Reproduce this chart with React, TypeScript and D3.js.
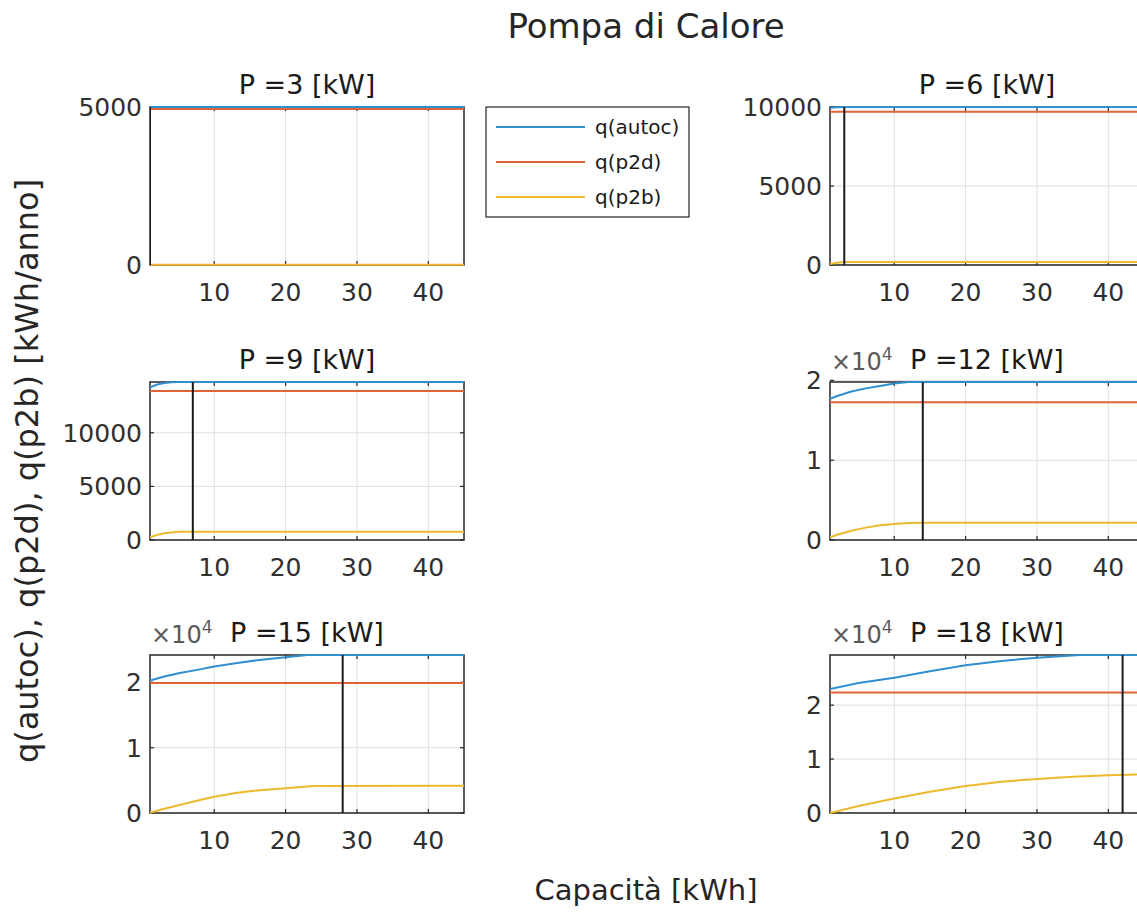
import React from "react";
import * as d3 from "d3";

// ---------- DATA ----------
const powers = [3, 6, 9, 12, 15, 18];
const seriesNames = ["q(autoc)", "q(p2d)", "q(p2b)"];
const xDomain: [number, number] = [1, 45];
const xTicks = [10, 20, 30, 40];

// [capacity kWh, value kWh/anno]
const p3Autoc: [number, number][] = [[1, 4995], [45, 4995]];
const p3P2d: [number, number][] = [[1, 4930], [45, 4930]];
const p3P2b: [number, number][] = [[1, 10], [45, 10]];

const p6Autoc: [number, number][] = [[1, 9960], [2, 9990], [3, 10000], [45, 10000]];
const p6P2d: [number, number][] = [[1, 9700], [45, 9700]];
const p6P2b: [number, number][] = [[1, 60], [2, 140], [3, 190], [45, 190]];

const p9Autoc: [number, number][] = [[1, 14250], [2, 14500], [3, 14650], [4, 14720], [5, 14740], [45, 14740]];
const p9P2d: [number, number][] = [[1, 13900], [45, 13900]];
const p9P2b: [number, number][] = [[1, 250], [2, 480], [3, 620], [4, 710], [5, 760], [6, 780], [45, 780]];

const p12Autoc: [number, number][] = [[1, 17700], [2, 18050], [4, 18600], [6, 19000], [8, 19300], [10, 19600], [12, 19800], [45, 19800]];
const p12P2d: [number, number][] = [[1, 17250], [45, 17250]];
const p12P2b: [number, number][] = [[1, 350], [2, 650], [4, 1150], [6, 1550], [8, 1850], [10, 2020], [12, 2120], [14, 2160], [45, 2160]];

const p15Autoc: [number, number][] = [[1, 20300], [3, 20900], [5, 21400], [8, 22000], [10, 22450], [13, 22950], [16, 23400], [20, 23850], [23, 24200], [45, 24200]];
const p15P2d: [number, number][] = [[1, 19900], [45, 19900]];
const p15P2b: [number, number][] = [[1, 50], [3, 650], [5, 1200], [8, 2000], [10, 2500], [13, 3050], [16, 3450], [20, 3800], [24, 4150], [45, 4180]];

const p18Autoc: [number, number][] = [[1, 23000], [5, 24100], [10, 25100], [15, 26300], [20, 27400], [25, 28200], [30, 28800], [36, 29300], [45, 29300]];
const p18P2d: [number, number][] = [[1, 22350], [45, 22350]];
const p18P2b: [number, number][] = [[1, 0], [5, 1300], [10, 2700], [15, 3950], [20, 5000], [25, 5800], [30, 6300], [35, 6700], [40, 7000], [45, 7150]];

// optimal capacity marker (vertical black line)
const optimalCapacity = [1, 3, 7, 14, 28, 42];

// y ticks per panel (raw values)
const yTicksP3 = [0, 5000];
const yTicksP6 = [0, 5000, 10000];
const yTicksP9 = [0, 5000, 10000];
const yTicksP12 = [0, 10000, 20000];
const yTicksP15 = [0, 10000, 20000];
const yTicksP18 = [0, 10000, 20000];
const yExponent = [0, 0, 0, 4, 4, 4];

const panelSeries = [
  [p3Autoc, p3P2d, p3P2b],
  [p6Autoc, p6P2d, p6P2b],
  [p9Autoc, p9P2d, p9P2b],
  [p12Autoc, p12P2d, p12P2b],
  [p15Autoc, p15P2d, p15P2b],
  [p18Autoc, p18P2d, p18P2b],
];
const panelYTicks = [yTicksP3, yTicksP6, yTicksP9, yTicksP12, yTicksP15, yTicksP18];

// ---------- STYLE ----------
const W = 1137;
const H = 913;
const FONT = "DejaVu Sans, Verdana, sans-serif";
const colors = ["#2f8fcf", "#e0633a", "#efb92e"];
const axisColor = "#262626";
const gridColor = "#e0e0e0";
const colLeft = [150, 830];
const rowTop = [107, 382, 655];
const pw = 314;
const ph = 158;

function Panel({ idx }: { idx: number }) {
  const col = idx % 2;
  const row = Math.floor(idx / 2);
  const left = colLeft[col];
  const top = rowTop[row];
  const series = panelSeries[idx];
  const autocMax = d3.max(series[0], (d) => d[1]) as number;
  const x = d3.scaleLinear().domain(xDomain).range([left, left + pw]);
  const y = d3.scaleLinear().domain([0, autocMax]).range([top + ph, top]);
  const line = d3
    .line<[number, number]>()
    .x((d) => x(d[0]))
    .y((d) => y(d[1]));
  const exp = yExponent[idx];
  const yt = panelYTicks[idx];
  const tl = 4;
  const clipId = `clip${idx}`;
  return (
    <g>
      <defs>
        <clipPath id={clipId}>
          <rect x={left} y={top - 2} width={pw + 1} height={ph + 4} />
        </clipPath>
      </defs>
      <rect x={left} y={top} width={pw} height={ph} fill="#fff" />
      {/* grid */}
      {xTicks.map((t) => (
        <line key={"gx" + t} x1={x(t)} x2={x(t)} y1={top} y2={top + ph} stroke={gridColor} strokeWidth={1} />
      ))}
      {yt.map((t) => (
        <line key={"gy" + t} x1={left} x2={left + pw} y1={y(t)} y2={y(t)} stroke={gridColor} strokeWidth={1} />
      ))}
      {/* box */}
      <rect x={left} y={top} width={pw} height={ph} fill="none" stroke={axisColor} strokeWidth={1.5} />
      {/* ticks */}
      {xTicks.map((t) => (
        <g key={"tx" + t}>
          <line x1={x(t)} x2={x(t)} y1={top + ph} y2={top + ph - tl} stroke={axisColor} strokeWidth={1.2} />
          <line x1={x(t)} x2={x(t)} y1={top} y2={top + tl} stroke={axisColor} strokeWidth={1.2} />
          <text
            x={x(t)}
            y={top + ph + 36}
            textAnchor="middle"
            fontFamily={FONT}
            fontSize={25}
            fill="#303030"
          >
            {t}
          </text>
        </g>
      ))}
      {yt.map((t) => (
        <g key={"ty" + t}>
          <line x1={left} x2={left + tl} y1={y(t)} y2={y(t)} stroke={axisColor} strokeWidth={1.2} />
          <line x1={left + pw} x2={left + pw - tl} y1={y(t)} y2={y(t)} stroke={axisColor} strokeWidth={1.2} />
          <text
            x={left - 8}
            y={y(t)}
            dy="0.36em"
            textAnchor="end"
            fontFamily={FONT}
            fontSize={25}
            fill="#303030"
          >
            {exp ? d3.format("d")(t / Math.pow(10, exp)) : t}
          </text>
        </g>
      ))}
      {/* data drawn above the axes */}
      <g clipPath={`url(#${clipId})`}>
        {series.map((s, i) => (
          <path key={i} d={line(s) || ""} fill="none" stroke={colors[i]} strokeWidth={2} />
        ))}
        <line
          x1={x(optimalCapacity[idx])}
          x2={x(optimalCapacity[idx])}
          y1={top}
          y2={top + ph}
          stroke="#1a1a1a"
          strokeWidth={2}
        />
      </g>
      {exp ? (
        <text x={left + 1} y={top - 12} fontFamily={FONT} fontSize={24} fill="#5a5a5a">
          ×10
          <tspan fontSize={17} dy={-10}>
            {exp}
          </tspan>
        </text>
      ) : null}
      <text
        x={left + pw / 2}
        y={top - 13}
        textAnchor="middle"
        fontFamily={FONT}
        fontSize={27}
        fill="#1a1a1a"
      >
        {`P =${powers[idx]} [kW]`}
      </text>
    </g>
  );
}

function Legend() {
  const lx = 486;
  const ly = 107;
  const rows = [127, 162, 197];
  return (
    <g>
      <rect x={lx} y={ly} width={203} height={110} fill="#fff" stroke={axisColor} strokeWidth={1.2} />
      {seriesNames.map((n, i) => (
        <g key={n}>
          <line x1={496} x2={585} y1={rows[i]} y2={rows[i]} stroke={colors[i]} strokeWidth={2} />
          <text x={595} y={rows[i]} dy="0.35em" fontFamily={FONT} fontSize={20} fill="#1a1a1a">
            {n}
          </text>
        </g>
      ))}
    </g>
  );
}

export default function App() {
  return (
    <svg
      width={W}
      height={H}
      viewBox={`0 0 ${W} ${H}`}
      style={{ position: "absolute", left: 0, top: 0, background: "#fff", overflow: "hidden" }}
    >
      <rect x={0} y={0} width={W} height={H} fill="#fff" />
      <text x={646} y={38} textAnchor="middle" fontFamily={FONT} fontSize={34} fill="#262626">
        Pompa di Calore
      </text>
      {powers.map((_, i) => (
        <Panel key={i} idx={i} />
      ))}
      <Legend />
      <text x={646} y={900} textAnchor="middle" fontFamily={FONT} fontSize={29} fill="#262626">
        Capacità [kWh]
      </text>
      <text
        transform="translate(38,471) rotate(-90)"
        textAnchor="middle"
        fontFamily={FONT}
        fontSize={32}
        fill="#262626"
      >
        q(autoc), q(p2d), q(p2b) [kWh/anno]
      </text>
    </svg>
  );
}
